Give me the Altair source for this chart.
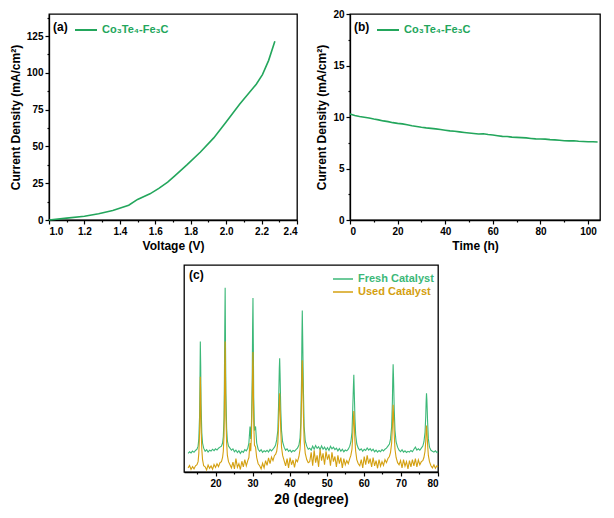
import altair as alt
import pandas as pd

# ---------------- Panel (a): polarization curve ----------------
voltage = [1.0, 1.1, 1.2, 1.28, 1.36, 1.45, 1.5, 1.57, 1.62, 1.67, 1.71, 1.78,
           1.855, 1.93, 2.0, 2.077, 2.17, 2.205, 2.24, 2.275]
current_a = [0.0, 1.3, 2.6, 4.3, 6.4, 10.0, 14.0, 17.8, 21.5, 25.8, 30.0, 37.6,
             46.2, 55.8, 66.6, 78.8, 92.3, 98.8, 108.5, 121.4]
a_xticks = [1.0, 1.2, 1.4, 1.6, 1.8, 2.0, 2.2, 2.4]
a_xminor = [1.1, 1.3, 1.5, 1.7, 1.9, 2.1, 2.3]
a_yticks = [0, 25, 50, 75, 100, 125]
a_yminor = [12.5, 37.5, 62.5, 87.5, 112.5, 137.5]

# ---------------- Panel (b): stability ----------------
time_h = [0, 2, 4, 6, 8, 10, 12, 14, 16, 18, 20, 22, 24, 26, 28, 30, 32, 34, 36, 38,
          40, 42, 44, 46, 48, 50, 52, 54, 56, 58, 60, 62, 64, 66, 68, 70, 72, 74, 76, 78,
          80, 82, 84, 86, 88, 90, 92, 94, 96, 98, 100, 102, 104]
current_b = [10.3, 10.15, 10.05, 9.98, 9.9, 9.8, 9.72, 9.62, 9.55, 9.45, 9.38, 9.33, 9.25,
             9.15, 9.08, 9.0, 8.94, 8.9, 8.85, 8.78, 8.72, 8.65, 8.62, 8.56, 8.5, 8.45,
             8.4, 8.35, 8.38, 8.3, 8.25, 8.18, 8.12, 8.1, 8.05, 8.02, 8.0, 7.97, 7.92,
             7.88, 7.86, 7.85, 7.8, 7.78, 7.74, 7.7, 7.68, 7.7, 7.65, 7.62, 7.6, 7.6, 7.58]
b_xticks = [0, 20, 40, 60, 80, 100]
b_xminor = [10, 30, 50, 70, 90]
b_yticks = [0, 5, 10, 15, 20]
b_yminor = [2.5, 7.5, 12.5, 17.5]

# ---------------- Panel (c): XRD ----------------
two_theta = [
    12.6, 13.0, 13.4, 13.8, 14.2, 14.6,
    15.0, 15.3, 15.5, 15.7, 15.8, 15.9, 16.0, 16.1, 16.3, 16.5, 16.8,
    17.2, 17.6, 18.0, 18.4, 18.8, 19.2, 19.6, 20.0, 20.4, 20.8, 21.2,
    21.6, 21.9, 22.1, 22.3, 22.4, 22.5, 22.6, 22.7, 22.8, 23.0, 23.2, 23.5, 23.9,
    24.3, 24.7, 25.1, 25.5, 25.9, 26.3, 26.7, 27.1, 27.5, 27.9, 28.3, 28.7,
    29.0, 29.3, 29.5, 29.7, 29.9, 30.0, 30.1, 30.2, 30.3, 30.5, 30.8, 31.1, 31.5,
    31.9, 32.3, 32.7, 33.1, 33.5, 33.9, 34.3, 34.7, 35.1, 35.5, 35.9,
    36.2, 36.5, 36.8, 37.0, 37.2, 37.3, 37.4, 37.6, 37.8, 38.1, 38.5,
    38.9, 39.3, 39.7, 40.1, 40.5, 40.9, 41.3, 41.7,
    42.1, 42.5, 42.8, 43.0, 43.2, 43.3, 43.4, 43.5, 43.7, 43.9, 44.2, 44.6, 45.0,
    45.4, 45.8, 46.2, 46.6, 47.0, 47.4, 47.8, 48.2, 48.6, 49.0, 49.4, 49.8, 50.2, 50.6,
    51.0, 51.4, 51.8, 52.2, 52.6, 53.0, 53.4, 53.8, 54.2, 54.6, 55.0, 55.4, 55.8,
    56.2, 56.5, 56.8, 57.0, 57.2, 57.3, 57.4, 57.6, 57.8, 58.1, 58.5,
    58.9, 59.3, 59.7, 60.1, 60.5, 60.9, 61.3, 61.7, 62.1, 62.5, 62.9, 63.3, 63.7, 64.1,
    64.5, 64.9, 65.3, 65.7, 66.1, 66.5,
    66.9, 67.2, 67.5, 67.7, 67.8, 67.9, 68.0, 68.2, 68.4, 68.7, 69.1,
    69.5, 69.9, 70.3, 70.7, 71.1, 71.5, 71.9, 72.3, 72.7, 73.1, 73.5, 73.9, 74.3, 74.7,
    75.1, 75.5,
    75.9, 76.2, 76.5, 76.7, 76.8, 76.9, 77.0, 77.2, 77.4, 77.7, 78.1,
    78.5, 78.9, 79.3, 79.7, 80.0,
]
fresh = [
    9.0, 9.8, 9.2, 10.1, 9.5, 10.4,
    11.0, 12.5, 16.0, 27.0, 42.0, 63.0, 52.0, 33.0, 19.0, 14.0, 11.5,
    10.0, 10.8, 9.6, 10.5, 10.1, 11.0, 10.3, 11.2, 10.6, 11.5, 12.0,
    12.5, 14.0, 17.0, 26.0, 45.0, 70.0, 89.0, 60.0, 38.0, 21.0, 15.0, 12.5, 11.5,
    10.5, 11.2, 9.8, 10.6, 9.4, 10.3, 9.0, 10.1, 9.5, 10.8, 10.2, 11.5,
    14.0, 22.0, 16.0, 24.0, 45.0, 70.0, 84.0, 62.0, 36.0, 20.0, 22.0, 14.0, 11.0,
    10.0, 10.8, 9.5, 10.3, 9.8, 10.5, 9.6, 10.9, 10.2, 11.0, 12.0,
    13.0, 15.5, 20.0, 32.0, 50.0, 55.0, 48.0, 30.0, 20.0, 14.5, 12.0,
    10.5, 11.2, 10.0, 10.6, 9.6, 10.4, 10.0, 10.8,
    11.5, 13.0, 16.5, 24.0, 45.0, 65.0, 78.0, 66.0, 40.0, 22.0, 15.0, 12.5, 11.0,
    11.5, 10.6, 12.5, 11.0, 12.8, 11.4, 12.2, 10.8, 12.6, 11.0, 12.0, 10.6, 11.8, 10.4,
    12.4, 11.2, 12.0, 10.8, 11.5, 10.2, 11.3, 10.0, 11.0, 9.8, 10.6, 10.2, 11.0,
    12.5, 14.5, 19.0, 30.0, 42.0, 47.0, 40.0, 26.0, 18.0, 13.5, 11.5,
    10.5, 11.2, 10.0, 11.0, 10.4, 11.6, 10.6, 11.3, 10.2, 11.0, 9.8, 10.6, 9.6, 10.4,
    9.8, 10.8, 10.2, 11.0, 11.5, 12.5,
    13.5, 16.0, 22.0, 34.0, 45.0, 52.0, 46.0, 30.0, 20.0, 14.5, 12.0,
    10.5, 9.8, 10.8, 9.6, 10.2, 9.4, 10.0, 9.6, 10.4, 9.8, 11.0, 12.0, 10.6, 11.2,
    10.5, 11.5,
    12.5, 14.5, 19.0, 27.0, 34.0, 38.0, 35.0, 24.0, 16.0, 12.0, 10.5,
    10.0, 9.6, 10.2, 9.4, 9.8,
]
used = [
    2.0, 3.1, 1.2, 2.6, 1.5, 3.0,
    3.5, 5.0, 9.0, 19.0, 30.0, 46.0, 38.0, 22.0, 11.0, 6.0, 3.0,
    2.5, 1.0, 3.4, 1.8, 2.9, 1.3, 3.6, 2.2, 4.0, 2.6, 4.5,
    5.0, 7.0, 10.0, 18.0, 32.0, 50.0, 63.0, 44.0, 27.0, 14.0, 8.0, 5.0, 3.5,
    2.0, 4.8, 1.5, 6.5, 2.3, 4.0, 1.2, 5.2, 2.5, 6.0, 3.0, 5.5,
    7.0, 14.0, 10.0, 18.0, 35.0, 50.0, 58.0, 42.0, 24.0, 13.0, 12.0, 7.0, 4.0,
    3.0, 1.5, 4.2, 2.0, 5.5, 3.2, 6.8, 4.0, 7.2, 5.5, 8.0,
    8.5, 10.0, 14.0, 22.0, 34.0, 38.0, 32.0, 20.0, 12.0, 8.0, 5.5,
    3.0, 6.5, 2.0, 7.0, 3.5, 5.8, 2.2, 6.0,
    5.0, 7.5, 11.0, 18.0, 35.0, 48.0, 54.0, 46.0, 28.0, 15.0, 9.0, 6.0, 4.5,
    5.0, 9.5, 3.0, 10.5, 4.5, 8.0, 2.5, 11.0, 5.5, 9.0, 3.5, 10.0, 6.0, 8.5,
    3.0, 9.5, 5.0, 7.5, 2.5, 8.0, 4.0, 7.0, 2.0, 6.5, 3.5, 5.5, 4.0,
    6.5, 8.0, 11.0, 17.0, 26.0, 29.5, 25.0, 15.0, 10.0, 6.0, 4.0,
    3.0, 6.0, 2.0, 7.5, 3.5, 8.0, 4.0, 6.5, 2.5, 7.0, 3.0, 5.5, 1.8, 6.0,
    2.8, 5.0, 3.2, 6.0, 4.5, 6.5,
    7.5, 9.5, 14.0, 22.0, 29.0, 32.5, 28.0, 18.0, 11.0, 7.0, 4.5,
    3.5, 5.5, 2.0, 6.0, 2.8, 5.0, 1.5, 5.5, 2.5, 6.0, 3.0, 6.5, 2.5, 5.8,
    3.5, 5.0,
    5.5, 7.0, 10.0, 15.0, 20.0, 22.5, 20.0, 13.0, 8.0, 5.0, 3.0,
    2.0, 3.5, 1.8, 3.0, 2.5,
]
assert len(two_theta) == len(fresh) == len(used)
c_xticks = [20, 30, 40, 50, 60, 70, 80]
c_xminor = [15, 25, 35, 45, 55, 65, 75]

GREEN = "#23a65c"
FRESH = "#3cb878"
USED = "#d4a010"
FONT = "Liberation Sans"
SAMPLE = "Co₃Te₄-Fe₃C"
FRAME = alt.ViewBackground(stroke="black", strokeWidth=1.3)


def minor_axis(orient, vals):
    return alt.Axis(orient=orient, values=vals, labels=False, tickSize=2,
                    domain=False, title=None, grid=False)


def sample_legend(label):
    return alt.Legend(title=label, titleOrient="left", orient="none",
                      legendX=4, legendY=4, symbolType="stroke",
                      symbolStrokeWidth=2, symbolSize=484,
                      labelColor=GREEN, labelFontSize=11, labelFont=FONT,
                      labelFontWeight="bold", titleFontSize=12, titleFont=FONT,
                      titleFontWeight="bold", titleColor="black", titlePadding=6)


# ---- (a)
df_a = pd.DataFrame({"V": voltage, "J": current_a, "s": SAMPLE})
xa = alt.Scale(domain=[1.0, 2.4], nice=False, zero=False)
ya = alt.Scale(domain=[0, 140], nice=False)
line_a = alt.Chart(df_a).mark_line(strokeWidth=1.6).encode(
    x=alt.X("V:Q", scale=xa, axis=alt.Axis(values=a_xticks, format=".1f",
                                           title="Voltage (V)", orient="bottom")),
    y=alt.Y("J:Q", scale=ya, axis=alt.Axis(values=a_yticks,
                                           title="Current Density (mA/cm²)",
                                           orient="left")),
    color=alt.Color("s:N", scale=alt.Scale(range=[GREEN]), legend=sample_legend("(a)")),
)
minor_a = alt.Chart(df_a).mark_line(opacity=0).encode(
    x=alt.X("V:Q", axis=minor_axis("bottom", a_xminor)),
    y=alt.Y("J:Q", axis=minor_axis("left", a_yminor)),
)
panel_a = alt.layer(line_a, minor_a).resolve_axis(
    x="independent", y="independent").properties(width=248, height=206, view=FRAME)

# ---- (b)
df_b = pd.DataFrame({"t": time_h, "J": current_b, "s2": SAMPLE})
xb = alt.Scale(domain=[0, 105], nice=False)
yb = alt.Scale(domain=[0, 20], nice=False)
line_b = alt.Chart(df_b).mark_line(strokeWidth=1.6).encode(
    x=alt.X("t:Q", scale=xb, axis=alt.Axis(values=b_xticks, title="Time (h)",
                                           orient="bottom")),
    y=alt.Y("J:Q", scale=yb, axis=alt.Axis(values=b_yticks,
                                           title="Current Density (mA/cm²)",
                                           orient="left")),
    color=alt.Color("s2:N", scale=alt.Scale(range=[GREEN]), legend=sample_legend("(b)")),
)
minor_b = alt.Chart(df_b).mark_line(opacity=0).encode(
    x=alt.X("t:Q", axis=minor_axis("bottom", b_xminor)),
    y=alt.Y("J:Q", axis=minor_axis("left", b_yminor)),
)
panel_b = alt.layer(line_b, minor_b).resolve_axis(
    x="independent", y="independent").properties(width=250, height=206, view=FRAME)

# ---- (c)
df_c = pd.DataFrame({"tt": two_theta, "fresh": fresh, "used": used,
                     "f": "Fresh Catalyst", "u": "Used Catalyst"})
xc = alt.Scale(domain=[11.5, 80], nice=False, zero=False)
yc = alt.Scale(domain=[0, 100], nice=False)


def c_legend(color, y):
    return alt.Legend(title=None, orient="none", legendX=148, legendY=y,
                      symbolType="stroke", symbolStrokeWidth=1.5, symbolSize=400,
                      labelColor=color, labelFontSize=11, labelFont=FONT,
                      labelFontWeight="bold")


fresh_line = alt.Chart(df_c).mark_line(strokeWidth=1.1).encode(
    x=alt.X("tt:Q", scale=xc, axis=alt.Axis(values=c_xticks, title="2θ (degree)",
                                            titleFontSize=14, orient="bottom")),
    y=alt.Y("fresh:Q", scale=yc, axis=alt.Axis(labels=False, ticks=False,
                                               title="Intensity (a.u.)",
                                               titleFontSize=14, orient="left")),
    color=alt.Color("f:N", scale=alt.Scale(domain=["Fresh Catalyst"], range=[FRESH]),
                    legend=c_legend(FRESH, 3)),
)
used_line = alt.Chart(df_c).mark_line(strokeWidth=1.1).encode(
    x=alt.X("tt:Q", axis=None),
    y=alt.Y("used:Q", axis=None),
    color=alt.Color("u:N", scale=alt.Scale(domain=["Used Catalyst"], range=[USED]),
                    legend=c_legend(USED, 16)),
)
minor_c = alt.Chart(df_c).mark_line(opacity=0).encode(
    x=alt.X("tt:Q", axis=minor_axis("bottom", c_xminor)),
    y=alt.Y("fresh:Q", axis=None),
)
label_c = alt.Chart(pd.DataFrame({"lab": ["(c)"]})).mark_text(
    align="left", baseline="top", font=FONT, fontWeight="bold", fontSize=12,
    color="black").encode(x=alt.value(5), y=alt.value(5), text="lab:N")
panel_c = alt.layer(fresh_line, used_line, minor_c, label_c).resolve_axis(
    x="independent").resolve_scale(color="independent").properties(
    width=254, height=207, view=FRAME)

# invisible spacer that shifts panel (c) to the right
spacer = alt.Chart(pd.DataFrame({"z": [0]})).mark_point(opacity=0).encode(
    x=alt.value(0), y=alt.value(0)).properties(
    width=134, height=10, view=alt.ViewBackground(strokeOpacity=0))

top_row = alt.hconcat(panel_a, panel_b, spacing=16).resolve_scale(color="independent")
bottom_row = alt.hconcat(spacer, panel_c, spacing=0).resolve_scale(color="independent")

chart = alt.vconcat(
    top_row,
    bottom_row,
    spacing=10,
).resolve_scale(color="independent").properties(padding=0).configure_axis(
    domainColor="black", domainWidth=1.3, tickColor="black", tickSize=4,
    tickWidth=1.2, labelFont=FONT, labelFontWeight="bold", labelFontSize=10,
    labelColor="black", titleFont=FONT, titleFontWeight="bold", titleFontSize=12,
    titleColor="black", grid=False, labelPadding=2, titlePadding=4,
).configure_view(stroke="black")

chart.save("out.html", embed_options={"renderer": "svg", "actions": False})
